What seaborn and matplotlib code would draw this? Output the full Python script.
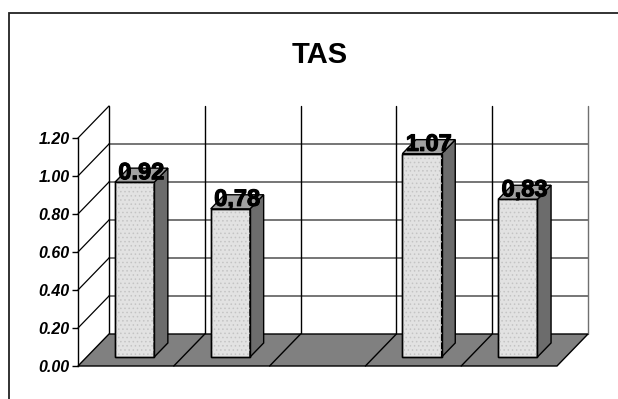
import matplotlib
matplotlib.use("Agg")
import numpy as np
import pandas as pd
import seaborn as sns
import matplotlib.pyplot as plt
import matplotlib.patheffects as pe
from matplotlib.patches import Polygon, Rectangle

# ---- data -------------------------------------------------------------
categories = ["1", "2", "3", "4", "5"]
values = [0.92, 0.78, np.nan, 1.07, 0.83]
decimal_marks = [".", ",", ".", ".", ","]
y_ticks = [0.0, 0.2, 0.4, 0.6, 0.8, 1.0, 1.2]
title = "TAS"

# ---- style ------------------------------------------------------------
sns.set_theme(style="white")
plt.rcParams["font.family"] = ["Liberation Sans", "DejaVu Sans"]
plt.rcParams["hatch.linewidth"] = 0.6

W, H = 618, 399
fig = plt.figure(figsize=(W / 100, H / 100), dpi=100)
fig.patch.set_facecolor("white")

# front plane of the 3-D box
ax = fig.add_axes([78 / W, (H - 366) / H, 479 / W, 228 / H])
ax.set_facecolor("none")

df = pd.DataFrame({"cat": categories, "val": values})
sns.barplot(data=df, x="cat", y="val", order=categories, width=0.41,
            color="#e2e2e2", saturation=1, edgecolor="black", linewidth=1,
            ax=ax, zorder=5)
bars = [p for p in ax.patches
        if np.isfinite(p.get_height()) and p.get_height() > 0]

ax.set_xlim(-0.5, 4.5)
ax.set_ylim(0, 1.2)
ax.set_xlabel("")
ax.set_ylabel("")
ax.set_xticks([])
ax.set_yticks(y_ticks)
ax.set_yticklabels([f"{t:.2f}" for t in y_ticks], fontsize=11.5,
                   fontweight="bold", fontstyle="italic")
ax.tick_params(axis="y", left=True, direction="out", length=4.5, width=1,
               color="black", pad=1.5, labelcolor="black")
for side in ("top", "right", "bottom"):
    ax.spines[side].set_visible(False)
ax.spines["left"].set_color("black")
ax.spines["left"].set_linewidth(1)
ax.spines["left"].set_zorder(4)

# depth of the box, in data units (x: categories, y: values)
DX = 31 / 95.8
DY = 32 / 190
d_front, d_bar = 0.28, 0.44   # bar front position and bar depth

common = dict(clip_on=False)

# back wall
ax.add_patch(Rectangle((-0.5 + DX, DY), 5, 1.2, fc="white", ec="none",
                       zorder=0.5, **common))
# side wall
ax.add_patch(Polygon([(-0.5, 0), (-0.5 + DX, DY), (-0.5 + DX, 1.2 + DY),
                      (-0.5, 1.2)], closed=True, fc="white", ec="none",
                     zorder=0.5, **common))
# wall gridlines
for v in y_ticks[1:-1]:
    ax.plot([-0.5 + DX, 4.5 + DX], [v + DY, v + DY], color="#505050",
            lw=1.1, zorder=1, **common)
for v in y_ticks[1:]:
    ax.plot([-0.5, -0.5 + DX], [v, v + DY], color="black", lw=0.9,
            zorder=1, **common)
for k in range(6):
    ax.plot([-0.5 + k + DX] * 2, [DY, 1.2 + DY],
            color="black" if k < 5 else "#707070", lw=1, zorder=1, **common)

# floor
ax.add_patch(Polygon([(-0.5, 0), (4.5, 0), (4.5 + DX, DY), (-0.5 + DX, DY)],
                     closed=True, fc="#808080", ec="black", lw=1, zorder=2,
                     **common))
for k in range(1, 5):
    ax.plot([-0.5 + k, -0.5 + k + DX], [0, DY], color="black", lw=1,
            zorder=2.5, **common)

# 3-D bars: shift the front faces back, then add side and top faces
for p in bars:
    w, h = p.get_width(), p.get_height()
    idx = int(round(p.get_x() + w / 2))
    x0 = p.get_x() + d_front * DX
    y0 = d_front * DY
    p.set_x(x0)
    p.set_y(y0)
    p.set_clip_on(False)
    # fine dotted fill texture on the front face
    ax.add_patch(Rectangle((x0, y0), w, h, fc="none", ec="#c4c4c4", lw=0,
                           hatch="....", zorder=5.1, **common))
    ax.add_patch(Rectangle((x0, y0), w, h, fc="none", ec="black", lw=1,
                           zorder=5.2, **common))
    ex, ey = d_bar * DX, d_bar * DY
    ax.add_patch(Polygon([(x0 + w, y0), (x0 + w + ex, y0 + ey),
                          (x0 + w + ex, y0 + h + ey), (x0 + w, y0 + h)],
                         closed=True, fc="#6c6c6c", ec="black", lw=1,
                         zorder=5, **common))
    ax.add_patch(Polygon([(x0, y0 + h), (x0 + w, y0 + h),
                          (x0 + w + ex, y0 + h + ey), (x0 + ex, y0 + h + ey)],
                         closed=True, fc="#a0a0a0", ec="black", lw=1,
                         zorder=5, **common))
    label = f"{values[idx]:.2f}".replace(".", decimal_marks[idx])
    ax.annotate(label, xy=(x0 + w / 2 + ex / 2, y0 + h), xytext=(0, 3),
                textcoords="offset pixels", ha="center", va="baseline",
                fontsize=17, fontweight="bold", color="black", zorder=10,
                annotation_clip=False,
                path_effects=[pe.withStroke(linewidth=0.8, foreground="black")])

# title and chart frame
fig.text(320 / W, (H - 63) / H, title, ha="center", va="baseline",
         fontsize=21, fontweight="bold", color="black")
fig.add_artist(Rectangle((9 / W, -0.1), 1.2, (H - 13) / H + 0.1,
                         transform=fig.transFigure, fill=False,
                         ec="#222222", lw=1.3))

fig.savefig("out.png", dpi=100)
